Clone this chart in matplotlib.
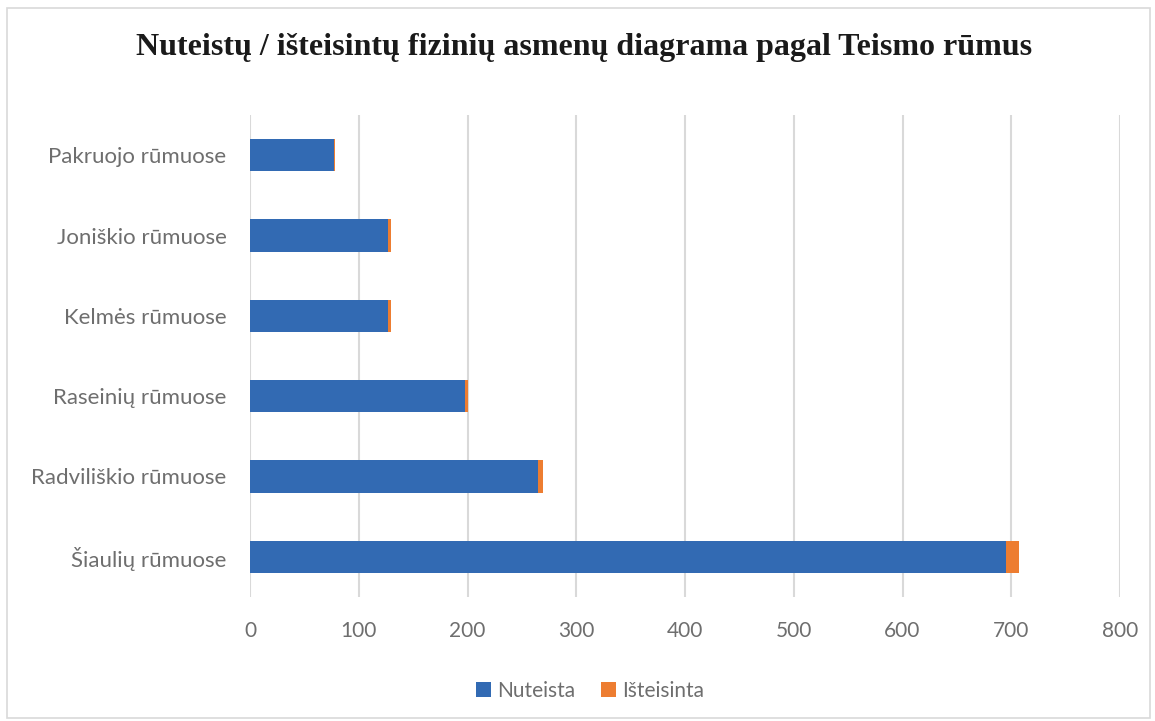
import matplotlib.pyplot as plt
from matplotlib.patches import Rectangle

courts = ['Šiaulių rūmuose', 'Radviliškio rūmuose', 'Raseinių rūmuose',
          'Kelmės rūmuose', 'Joniškio rūmuose', 'Pakruojo rūmuose']
nuteista = [695, 265, 198, 127, 127, 77]
isteisinta = [12, 4, 2, 3, 3, 1]
xticks = [0, 100, 200, 300, 400, 500, 600, 700, 800]

blue = '#326AB3'
orange = '#ED7D31'
grey = '#6E6E6E'

fig = plt.figure(figsize=(11.55, 7.21), dpi=100)
ax = fig.add_axes([250 / 1155, 124 / 721, 870 / 1155, 482 / 721])

y = range(len(courts))
ax.barh(y, nuteista, height=0.4, color=blue, label='Nuteista', zorder=3)
ax.barh(y, isteisinta, left=nuteista, height=0.4, color=orange,
        label='Išteisinta', zorder=3)

ax.set_xlim(0, 800)
ax.set_ylim(-0.5, len(courts) - 0.5)
ax.set_xticks(xticks)
ax.set_yticks(list(y))
ax.set_yticklabels(courts)
ax.grid(axis='x', color='#D9D9D9', linewidth=1.5, zorder=0)
ax.tick_params(length=0, labelsize=15, labelcolor=grey)
ax.tick_params(axis='y', pad=17, labelsize=16)
ax.tick_params(axis='x', pad=17)
for lab in ax.get_xticklabels() + ax.get_yticklabels():
    lab.set_family('Lato')
for s in ax.spines.values():
    s.set_visible(False)

fig.text(584 / 1155, 1 - 48 / 721, 'Nuteistų / išteisintų fizinių asmenų diagrama pagal Teismo rūmus',
         ha='center', va='center', fontsize=23, fontweight='bold',
         family='Liberation Serif', color='#1a1a1a')

leg = fig.legend(loc='center', bbox_to_anchor=(590 / 1155, 1 - 691 / 721), ncol=2,
                 frameon=False, handlelength=0.75, handleheight=0.75,
                 handletextpad=0.3, columnspacing=1.2,
                 prop={'family': 'Lato', 'size': 15})
for t in leg.get_texts():
    t.set_color(grey)

fig.patches.append(Rectangle((7 / 1155, 3 / 721), 1143 / 1155, 710 / 721,
                             transform=fig.transFigure, fill=False,
                             edgecolor='#D9D9D9', linewidth=1.2))

fig.savefig('out.png', dpi=100)
